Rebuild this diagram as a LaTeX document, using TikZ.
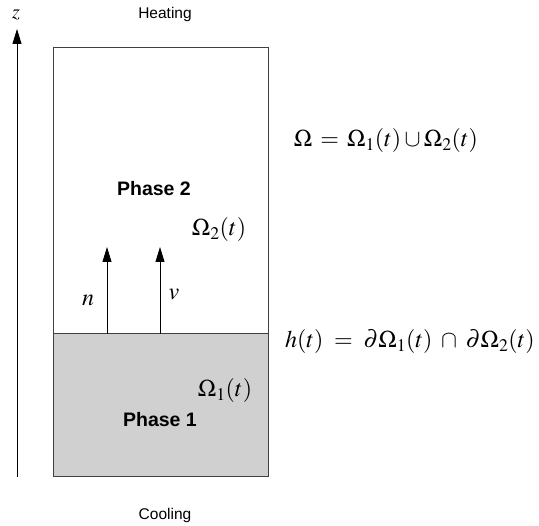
\documentclass[tikz,border=0pt]{standalone}
\usepackage[no-math]{fontspec}
\usepackage{mathptmx}
\newfontfamily\arialf{Liberation Sans}
\usetikzlibrary{arrows.meta}
\definecolor{phasegray}{RGB}{208,208,208}
\definecolor{edgegray}{RGB}{64,64,64}
\tikzset{
  lbl/.style={font=\arialf\fontsize{15.5}{18}\selectfont, inner sep=0pt},
  phase/.style={font=\arialf\bfseries\fontsize{19.5}{22}\selectfont, inner sep=0pt},
  mth/.style={font=\fontsize{24}{28}\selectfont, inner sep=0pt},
  vec/.style={line width=0.9pt, -{Triangle[length=15pt,width=9pt]}},
}
\begin{document}
\begin{tikzpicture}[x=1pt,y=-1pt]
\useasboundingbox (0,0) rectangle (539,526);
% lower phase
\fill[phasegray] (53,334) rectangle (268,477);
\draw[edgegray, line width=1pt] (53,48) rectangle (268,477);
\draw[edgegray, line width=1pt] (53,334) -- (268,334);
% z axis
\coordinate (zb) at (17,477);
\coordinate (zt) at (17,29);
\draw[vec, line width=1pt] (zb) -- (zt);
\node[mth, font=\fontsize{20}{24}\selectfont] (zl) at (16,15) {$z$};
% vectors
\coordinate (nb) at (107,334);
\coordinate (nt) at (107,247);
\coordinate (vb) at (160,334);
\coordinate (vt) at (160,247);
\draw[vec] (nb) -- (nt);
\draw[vec] (vb) -- (vt);
\node[mth] (nl) at (88,300) {$n$};
\node[mth] (vl) at (174,294) {$v$};
% texts
\node[lbl] (heat) at (165,14) {Heating};
\node[lbl] (cool) at (165,515) {Cooling};
\node[phase] (p2) at (154,189) {Phase 2};
\node[phase] (p1) at (160,420) {Phase 1};
\node[mth] (o2) at (219,230) {$\Omega_2(t)$};
\node[mth] (o1) at (225,391) {$\Omega_1(t)$};
\node[mth] (om) at (386,141) {$\Omega\,=\,\Omega_1(t)\cup\Omega_2(t)$};
\node[mth] (hf) at (410,342) {$h(t)\;=\;\partial\Omega_1(t)\;\cap\;\partial\Omega_2(t)$};
\end{tikzpicture}
\end{document}
